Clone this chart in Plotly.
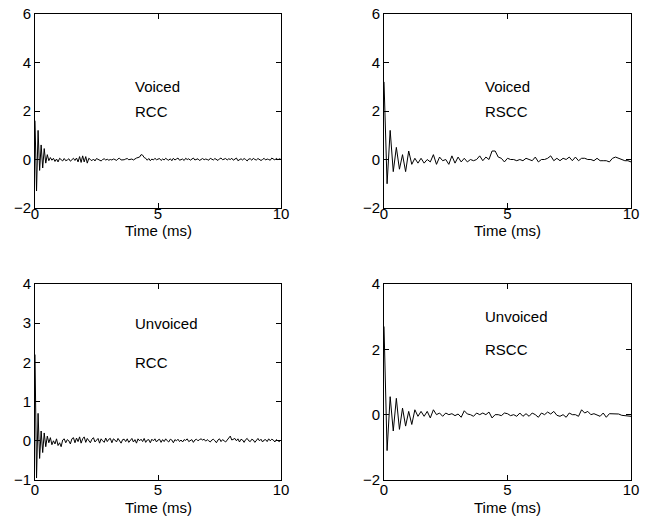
import plotly.graph_objects as go

# Cepstral coefficients, voiced / unvoiced frames
# RCC sampled every 0.0625 ms, RSCC every 0.125 ms
RCC_STEP_MS = 0.0625
RSCC_STEP_MS = 0.125

voiced_rcc = [
    1.6, -1.3, 1.2, -0.45, 0.6, -0.35, 0.45, -0.15, 0.2, -0.05, 0.08, -0.03, 0.05, -0.08, 0.02, -0.1,
    0.05, 0.0, -0.06, 0.04, -0.05, -0.02, 0.03, -0.07, 0.0, 0.05, -0.04, 0.06, -0.1, 0.12, -0.12, 0.15,
    -0.1, 0.12, -0.15, 0.05, 0.0, -0.05, 0.02, -0.06, 0.04, 0.0, -0.03, -0.06, 0.0, 0.03, -0.02, 0.01,
    -0.03, 0.0, -0.02, 0.02, 0.0, -0.04, 0.03, 0.05, -0.02, -0.03, -0.01, 0.02, 0.04, -0.01, 0.0, 0.02,
    -0.02, 0.03, 0.06, 0.08, 0.1, 0.2, 0.18, 0.08, 0.05, -0.03, 0.04, -0.05, 0.02, -0.02, 0.05, -0.01,
    0.0, 0.04, -0.04, 0.02, -0.02, 0.05, 0.0, -0.03, 0.03, -0.05, 0.05, -0.02, 0.02, 0.06, -0.03, 0.0,
    0.02, -0.04, 0.05, 0.0, 0.03, -0.03, 0.02, 0.06, -0.02, 0.0, 0.03, -0.04, 0.02, 0.04, -0.01, 0.02,
    0.0, -0.03, 0.05, 0.02, -0.02, 0.04, 0.01, -0.04, 0.03, 0.06, -0.01, 0.0, 0.04, -0.02, 0.03, 0.0,
    0.05, -0.03, 0.02, 0.06, -0.05, 0.0, 0.03, -0.02, 0.04, 0.0, -0.06, 0.02, 0.03, -0.03, 0.05, 0.0,
    -0.02, 0.04, 0.01, -0.04, 0.0, 0.05, -0.02, 0.02, 0.0, -0.03, 0.06, 0.0, -0.02, 0.05, -0.01, 0.03,
    0.0,
]

voiced_rscc = [
    3.2, -1.0, 1.2, -0.5, 0.5, -0.4, 0.2, -0.5, 0.35, -0.2, 0.05, -0.15, 0.05, -0.15, 0.0, -0.1,
    0.2, -0.2, 0.1, -0.05, 0.0, -0.2, 0.15, -0.15, 0.1, -0.1, 0.05, -0.1, 0.0, -0.05, 0.0, 0.15,
    -0.05, 0.1, 0.0, 0.35, 0.35, 0.1, 0.05, -0.1, 0.05, 0.0, 0.0, -0.05, 0.0, -0.05, 0.05, 0.0,
    -0.05, 0.1, -0.1, 0.0, 0.0, 0.05, 0.15, -0.05, 0.05, -0.05, 0.05, 0.0, 0.1, -0.05, 0.1, -0.05,
    0.05, 0.05, 0.0, 0.0, -0.05, 0.05, -0.05, -0.05, -0.05, -0.1, 0.05, 0.1, 0.05, 0.0, -0.05, -0.05,
    -0.1,
]

unvoiced_rcc = [
    2.2, -0.95, 0.7, -0.45, 0.25, -0.3, 0.2, -0.15, 0.12, -0.05, 0.08, -0.1, 0.0, -0.08, 0.05, -0.12,
    -0.05, -0.15, 0.02, 0.05, -0.05, 0.03, 0.0, -0.08, 0.05, 0.08, -0.05, 0.07, -0.02, 0.1, -0.06, 0.05,
    0.1, -0.04, 0.06, 0.0, -0.05, 0.04, 0.08, -0.03, 0.02, 0.06, -0.06, 0.05, 0.0, -0.04, 0.07, -0.02,
    0.04, 0.06, -0.05, 0.05, 0.02, -0.03, 0.06, 0.0, -0.06, 0.03, 0.04, -0.02, 0.05, -0.04, 0.02, 0.06,
    -0.03, 0.03, -0.06, 0.05, 0.0, 0.04, -0.02, 0.06, -0.04, 0.02, 0.03, -0.05, 0.04, 0.0, 0.05, -0.03,
    0.02, 0.04, -0.04, 0.03, -0.02, 0.05, 0.0, -0.03, 0.04, 0.02, -0.05, 0.03, 0.0, 0.04, -0.02, 0.02,
    -0.03, 0.03, 0.01, 0.05, -0.02, 0.0, 0.03, -0.04, 0.02, 0.04, 0.0, 0.03, 0.05, 0.02, 0.04, -0.01,
    0.03, 0.0, -0.03, 0.02, 0.04, 0.0, -0.05, 0.02, 0.05, -0.02, 0.03, 0.0, -0.03, 0.02, 0.06, 0.12,
    0.02, 0.05, 0.06, 0.0, 0.05, -0.03, 0.04, 0.02, -0.04, 0.03, 0.06, 0.0, -0.02, 0.04, 0.02, -0.04,
    0.02, 0.06, 0.0, 0.04, -0.03, 0.02, 0.03, -0.02, 0.05, 0.0, 0.04, 0.02, -0.03, 0.03, 0.0, -0.02,
    0.02,
]

unvoiced_rscc = [
    2.7, -1.1, 0.55, -0.5, 0.5, -0.45, 0.2, -0.35, 0.1, -0.3, 0.15, -0.05, 0.1, -0.05, 0.1, -0.1,
    0.15, 0.0, 0.05, -0.05, 0.05, 0.0, 0.03, -0.03, 0.02, -0.08, 0.12, 0.02, 0.0, -0.05, 0.05, 0.0,
    0.05, 0.0, 0.08, -0.1, 0.0, 0.0, -0.03, 0.05, 0.03, -0.03, 0.0, -0.05, 0.05, -0.05, 0.03, -0.05,
    0.05, 0.0, -0.08, 0.05, 0.0, 0.08, 0.02, 0.1, -0.02, -0.05, 0.0, -0.08, 0.05, 0.0, 0.0, -0.05,
    0.15, 0.05, 0.1, 0.0, 0.03, 0.0, -0.05, 0.05, -0.08, 0.03, 0.03, 0.03, 0.02, -0.02, -0.03, -0.02,
    -0.05,
]

panels = [
    # values, step, y-range, y-ticks, label lines
    (voiced_rcc, RCC_STEP_MS, [-2, 6], [-2, 0, 2, 4, 6], ["Voiced", "RCC"]),
    (voiced_rscc, RSCC_STEP_MS, [-2, 6], [-2, 0, 2, 4, 6], ["Voiced", "RSCC"]),
    (unvoiced_rcc, RCC_STEP_MS, [-1, 4], [-1, 0, 1, 2, 3, 4], ["Unvoiced", "RCC"]),
    (unvoiced_rscc, RSCC_STEP_MS, [-2, 4], [-2, 0, 2, 4], ["Unvoiced", "RSCC"]),
]

W, H = 654, 522
x_domains = [[35 / W, 281 / W], [384 / W, 631 / W]]
y_domains = [[1 - 208 / H, 1 - 14 / H], [1 - 480 / H, 1 - 284 / H]]
xtitle_y = [1 - 231 / H, 1 - 507 / H]
xlabel_shift = [-8, -4]
label_y = [3, 2]

FONT = "Liberation Sans, Arial, Helvetica, sans-serif"
FSIZE = 15

fig = go.Figure()
layout = {}
annotations = []
for i, (vals, step, yr, yt, labels) in enumerate(panels):
    row, col = divmod(i, 2)
    n = i + 1
    xa = "x" if n == 1 else f"x{n}"
    ya = "y" if n == 1 else f"y{n}"
    t = [k * step for k in range(len(vals))]
    fig.add_trace(go.Scatter(
        x=t, y=vals, mode="lines", xaxis=xa, yaxis=ya,
        line=dict(color="black", width=1), showlegend=False, hoverinfo="skip",
    ))
    axis_common = dict(
        showline=True, linecolor="black", linewidth=1, mirror="ticks",
        ticks="inside", ticklen=5, tickcolor="black", tickwidth=1,
        showgrid=False, zeroline=False, automargin=False,
        tickfont=dict(family=FONT, size=FSIZE, color="black"),
    )
    layout["xaxis" if n == 1 else f"xaxis{n}"] = dict(
        domain=x_domains[col], anchor=ya, range=[0, 10], tickvals=[0, 5, 10],
        ticklabelstandoff=xlabel_shift[row], **axis_common,
    )
    layout["yaxis" if n == 1 else f"yaxis{n}"] = dict(
        domain=y_domains[row], anchor=xa, range=yr, tickvals=yt, **axis_common,
    )
    # x-axis title under each panel
    annotations.append(dict(
        x=sum(x_domains[col]) / 2, y=xtitle_y[row], xref="paper", yref="paper",
        text="Time (ms)", showarrow=False, xanchor="center", yanchor="middle",
        font=dict(family=FONT, size=FSIZE, color="black"),
    ))
    for text, yv in zip(labels, label_y):
        annotations.append(dict(
            x=4, y=yv, xref=xa, yref=ya, text=text, showarrow=False,
            xanchor="left", yanchor="middle",
            font=dict(family=FONT, size=FSIZE, color="black"),
        ))

fig.update_layout(
    width=W, height=H,
    margin=dict(l=0, r=0, t=0, b=0),
    paper_bgcolor="white", plot_bgcolor="white",
    annotations=annotations,
    **layout,
)

fig.write_html("out.html")
